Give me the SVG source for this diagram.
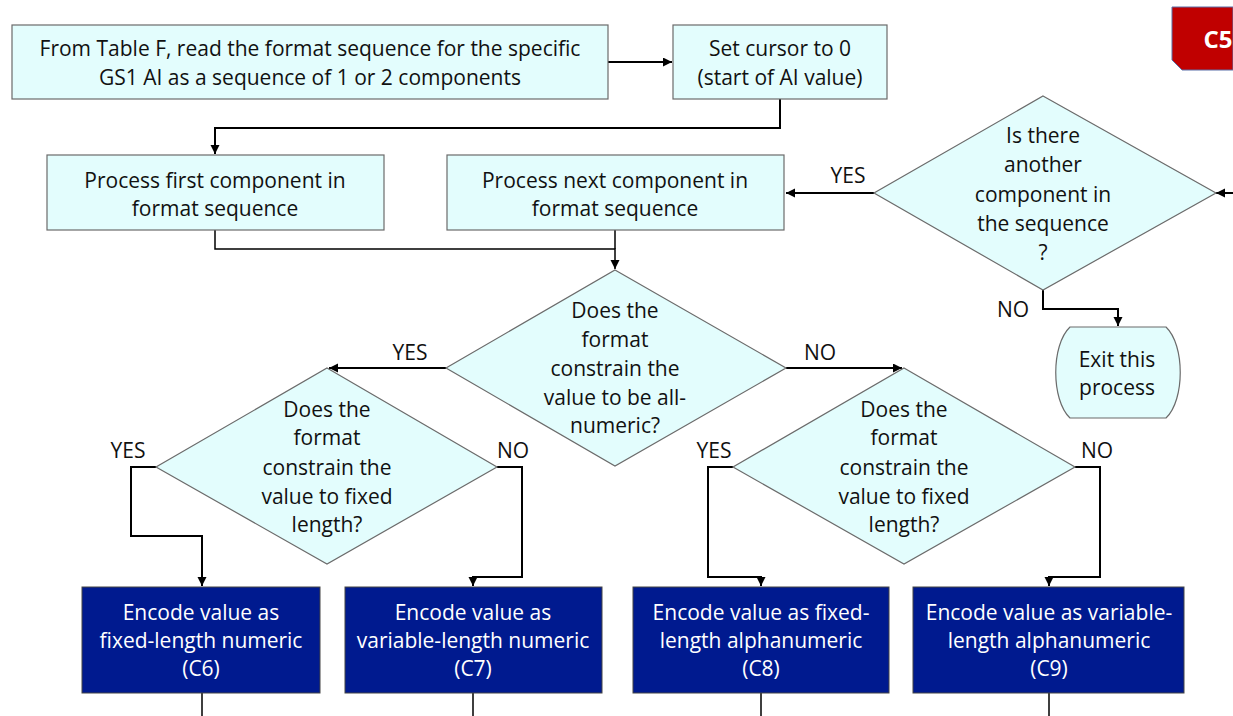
<svg xmlns="http://www.w3.org/2000/svg" width="1233" height="716" viewBox="0 0 1233 716">
<style>
.lt{fill:#E3FDFD;stroke:#6b6b6b;stroke-width:1.2}
.dk{fill:#001A8F;stroke:#444;stroke-width:1}
text{font-family:"Open Sans","Liberation Sans",sans-serif;font-size:21px;fill:#111;text-anchor:middle}
.w{fill:#fff}
.c{fill:none;stroke:#000;stroke-width:2}
.c1{fill:none;stroke:#000;stroke-width:1.5}
</style>
<defs>
<marker id="ah" markerUnits="userSpaceOnUse" markerWidth="10" markerHeight="10" refX="9" refY="4.5" orient="auto">
<path d="M0,0 L9,4.5 L0,9 z" fill="#000"/>
</marker>
</defs>
<rect width="1233" height="716" fill="#fff"/>

<g id="connectors">
<path class="c" d="M608,62 H672" marker-end="url(#ah)"/>
<path class="c" d="M780,99 V128 H215 V154" marker-end="url(#ah)"/>
<path class="c1" d="M215,230 V249 H615 V269" marker-end="url(#ah)"/>
<path class="c1" d="M615,230 V249"/>
<path class="c" d="M874,193 H786" marker-end="url(#ah)"/>
<path class="c" d="M1233,193 H1216" marker-end="url(#ah)"/>
<path class="c" d="M1043,290 V309 H1118 V326" marker-end="url(#ah)"/>
<path class="c" d="M446,368 H329" marker-end="url(#ah)"/>
<path class="c" d="M786,368 H902" marker-end="url(#ah)"/>
<path class="c" d="M156,467 H131 V536 H202 V586" marker-end="url(#ah)"/>
<path class="c" d="M497,467 H522 V577 H473 V586" marker-end="url(#ah)"/>
<path class="c" d="M733,467 H708 V577 H761 V586" marker-end="url(#ah)"/>
<path class="c" d="M1075,467 H1100 V577 H1049 V586" marker-end="url(#ah)"/>
<path class="c1" d="M202,693 V716 M473,693 V716 M761,693 V716 M1049,693 V716"/>
<text x="848" y="183">YES</text>
<text x="1013" y="317">NO</text>
<text x="410" y="360">YES</text>
<text x="820" y="360">NO</text>
<text x="128" y="458">YES</text>
<text x="513" y="458">NO</text>
<text x="714" y="458">YES</text>
<text x="1097" y="458">NO</text>
</g>

<g id="badge">
<path d="M1172,7 H1233 V70 H1182 L1172,60 Z" fill="#C00000" stroke="#5a6fa8" stroke-width="1"/>
<text x="1218" y="48" class="w" style="font-weight:bold;font-size:24px">C5</text>
</g>

<g id="readTable">
<rect class="lt" x="12" y="25" width="596" height="74"/>
<text x="310" y="56">From Table F, read the format sequence for the specific</text>
<text x="310" y="85">GS1 AI as a sequence of 1 or 2 components</text>
</g>

<g id="setCursor">
<rect class="lt" x="673" y="25" width="214" height="74"/>
<text x="780" y="56">Set cursor to 0</text>
<text x="780" y="85">(start of AI value)</text>
</g>

<g id="processFirst">
<rect class="lt" x="47" y="155" width="337" height="75"/>
<text x="215" y="188">Process first component in</text>
<text x="215" y="216">format sequence</text>
</g>

<g id="processNext">
<rect class="lt" x="447" y="155" width="337" height="75"/>
<text x="615" y="188">Process next component in</text>
<text x="615" y="216">format sequence</text>
</g>

<g id="anotherComponent">
<polygon class="lt" points="1043,96 1216,193 1043,290 874,193"/>
<text x="1043" y="143">Is there</text>
<text x="1043" y="172">another</text>
<text x="1043" y="202">component in</text>
<text x="1043" y="231">the sequence</text>
<text x="1043" y="260">?</text>
</g>

<g id="exit">
<path class="lt" d="M1070,327 H1166 C1185,345 1185,400 1166,418 H1070 C1051,400 1051,345 1070,327 Z"/>
<text x="1117" y="367">Exit this</text>
<text x="1117" y="395">process</text>
</g>

<g id="allNumeric">
<polygon class="lt" points="615,270 786,368 615,466 446,368"/>
<text x="615" y="318">Does the</text>
<text x="615" y="347">format</text>
<text x="615" y="376">constrain the</text>
<text x="615" y="405">value to be all-</text>
<text x="615" y="433">numeric?</text>
</g>

<g id="fixedNumeric">
<polygon class="lt" points="327,368 497,467 327,564 156,467"/>
<text x="327" y="417">Does the</text>
<text x="327" y="445">format</text>
<text x="327" y="475">constrain the</text>
<text x="327" y="504">value to fixed</text>
<text x="327" y="532">length?</text>
</g>

<g id="fixedAlpha">
<polygon class="lt" points="904,368 1075,467 904,564 733,467"/>
<text x="904" y="417">Does the</text>
<text x="904" y="445">format</text>
<text x="904" y="475">constrain the</text>
<text x="904" y="504">value to fixed</text>
<text x="904" y="532">length?</text>
</g>

<g id="c6">
<rect class="dk" x="82" y="587" width="238" height="106"/>
<text class="w" x="201" y="620">Encode value as</text>
<text class="w" x="201" y="648">fixed-length numeric</text>
<text class="w" x="201" y="676">(C6)</text>
</g>

<g id="c7">
<rect class="dk" x="345" y="587" width="257" height="106"/>
<text class="w" x="473" y="620">Encode value as</text>
<text class="w" x="473" y="648">variable-length numeric</text>
<text class="w" x="473" y="676">(C7)</text>
</g>

<g id="c8">
<rect class="dk" x="633" y="587" width="256" height="106"/>
<text class="w" x="761" y="620">Encode value as fixed-</text>
<text class="w" x="761" y="648">length alphanumeric</text>
<text class="w" x="761" y="676">(C8)</text>
</g>

<g id="c9">
<rect class="dk" x="913" y="587" width="271" height="106"/>
<text class="w" x="1049" y="620">Encode value as variable-</text>
<text class="w" x="1049" y="648">length alphanumeric</text>
<text class="w" x="1049" y="676">(C9)</text>
</g>
</svg>
